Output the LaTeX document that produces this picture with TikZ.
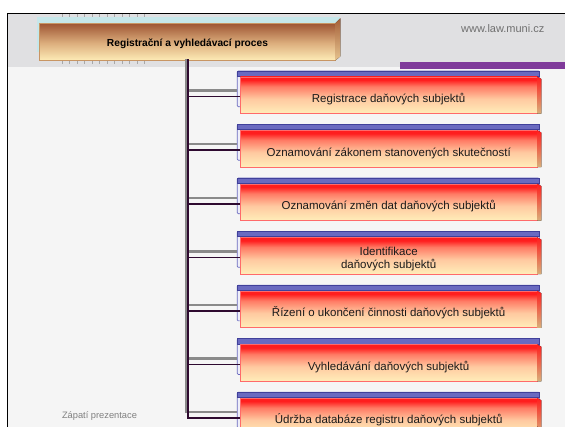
\documentclass[tikz,border=0pt]{standalone}
\usepackage{fontspec}
\setmainfont{Liberation Sans}
\usetikzlibrary{shadings}
\definecolor{hdrgrey}{HTML}{E0E0E2}
\definecolor{lightbg}{HTML}{F5F5F5}
\definecolor{purplebar}{HTML}{7F3A9A}
\definecolor{cyanback}{HTML}{C6E7EA}
\definecolor{htop}{HTML}{9E5634}
\definecolor{hmid}{HTML}{DDAF7E}
\definecolor{hcream}{HTML}{FDEBB6}
\definecolor{creamR}{HTML}{FFEDB9}
\definecolor{peachR}{HTML}{FFC9A0}
\definecolor{orangeR}{HTML}{FF7A64}
\definecolor{redR}{HTML}{FF1E1E}
\definecolor{redborder}{HTML}{FF6A6A}
\definecolor{bluedark}{HTML}{40409A}
\definecolor{bluemid}{HTML}{6A6AC0}
\definecolor{backfill}{HTML}{EEEEF8}
\definecolor{greyline}{HTML}{8A8A8A}
\definecolor{darkline}{HTML}{2E0A30}
\definecolor{tickc}{HTML}{A8A8A8}
\definecolor{txtgrey}{HTML}{707070}
\definecolor{foot}{HTML}{808080}
\definecolor{boxtxt}{HTML}{1A1A1A}
\pgfdeclareverticalshading{redfront}{100bp}{color(0bp)=(creamR); color(25bp)=(creamR); color(45bp)=(peachR); color(62bp)=(orangeR); color(71bp)=(redR); color(100bp)=(redR)}
\pgfdeclareverticalshading{hdrfront}{100bp}{color(0bp)=(hcream); color(25bp)=(hcream); color(48bp)=(hmid); color(75bp)=(htop); color(100bp)=(htop)}
\tikzset{
  frontbox/.style={shading=redfront, draw=redborder, line width=0.6pt, minimum width=296.7pt, minimum height=36.3pt, inner sep=0pt, anchor=north west},
  backbox/.style={fill=backfill, draw=bluemid, line width=0.7pt, rounded corners=1pt},
  bluetop/.style={fill=bluemid, draw=bluedark, line width=0.7pt},
  redside/.style={top color=redR, bottom color={rgb,255:red,216;green,176;blue,122}},
  greybranch/.style={draw=greyline, line width=2.4pt, line join=miter},
  darkbranch/.style={draw=darkline, line width=1.5pt, line join=miter},
  boxtext/.style={font=\fontsize{11.5}{13.3}\selectfont, text=boxtxt, align=center, anchor=base, inner sep=0pt},
  tickmark/.style={draw=tickc, line width=0.6pt}
}
\begin{document}
\begin{tikzpicture}[x=1pt,y=-1pt]
\useasboundingbox (0,0) rectangle (565,427);
\clip (0,0) rectangle (565,427);
\fill[white] (0,0) rectangle (565,427);
\fill[hdrgrey] (8,14) rectangle (565,67.3);
\fill[lightbg] (8,67.3) rectangle (565,427);
\fill[purplebar] (400,62) rectangle (565,69.3);
\draw[black, line width=1.4pt] (7.3,430) -- (7.3,13.6) -- (566,13.6);
% tick marks
\foreach \i in {0,...,11} {
  \draw[tickmark] (62+\i*7.5,14.4) -- ++(0,2.4);
  \draw[tickmark] (62+\i*7.5,61.2) -- ++(0,3);
}
% header box
\fill[cyanback] (36.7,16.7) rectangle (340,52);
\node[shading=hdrfront, draw={rgb,255:red,200;green,150;blue,100}, line width=0.4pt, minimum width=295.7pt, minimum height=36.7pt, inner sep=0pt, anchor=north west] (hdr) at (39.3,23.3) {};
\fill[top color={rgb,255:red,165;green,96;blue,58}, bottom color={rgb,255:red,230;green,195;blue,142}] (hdr.north east) -- ++(5,-5) -- ++(0,38) -- (hdr.south east) -- cycle;
\node[font=\bfseries\fontsize{10.2}{12}\selectfont, text=black, anchor=base, inner sep=0pt] (htext) at (187.5,46.7) {Registrační a vyhledávací proces};
\node[font=\fontsize{11}{13}\selectfont, text=txtgrey, anchor=base, inner sep=0pt] (www) at (502.8,32.3) {www.law.muni.cz};
\node[font=\fontsize{9.3}{11}\selectfont, text=foot, anchor=base, inner sep=0pt] (footer) at (99.5,418.3) {Zápatí prezentace};
% boxes
\foreach \i in {1,...,7} {
  \pgfmathsetmacro\yb{71+(\i-1)*53.55}
  \pgfmathsetmacro\yr{\yb+5.7}
  \path[backbox] (237.3,\yb) rectangle (539.3,\yb+35.7);
  \path[bluetop] (237.3,\yb) rectangle (539.3,\yb+5.2);
  \node[frontbox] (b\i) at (240,\yr) {};
  \fill[redside] (b\i.north east) -- ++(4,2.3) -- ([xshift=4pt]b\i.south east) -- (b\i.south east) -- cycle;
  \coordinate (gt\i) at (186,\yr+14);
  \coordinate (dt\i) at (188,\yr+20);
}
\node[boxtext] (t1) at ([yshift=-7.45pt]b1.center) {Registrace daňových subjektů};
\node[boxtext] (t2) at ([yshift=-7.45pt]b2.center) {Oznamování zákonem stanovených skutečností};
\node[boxtext] (t3) at ([yshift=-7.45pt]b3.center) {Oznamování změn dat daňových subjektů};
\node[boxtext] (t4) at ([yshift=-12.55pt]b4.center) {Identifikace\\daňových subjektů};
\node[boxtext] (t5) at ([yshift=-7.45pt]b5.center) {Řízení o ukončení činnosti daňových subjektů};
\node[boxtext] (t6) at ([yshift=-7.45pt]b6.center) {Vyhledávání daňových subjektů};
\node[boxtext] (t7) at ([yshift=-7.45pt]b7.center) {Údržba databáze registru daňových subjektů};
% trunk and branches
\coordinate (gtop) at (186,59.5);
\coordinate (dtop) at (188,59.5);
\foreach \i in {1,...,6} {
  \draw[greybranch, shorten >=2.7pt] (gt\i) -- (gt\i -| b\i.west);
  \draw[darkbranch] (dt\i) -- (dt\i -| b\i.west);
}
\draw[greybranch, shorten >=2.7pt] (gtop) -- (gt7) -- (gt7 -| b7.west);
\draw[darkbranch] (dtop) -- (dt7) -- (dt7 -| b7.west);
\end{tikzpicture}
\end{document}
